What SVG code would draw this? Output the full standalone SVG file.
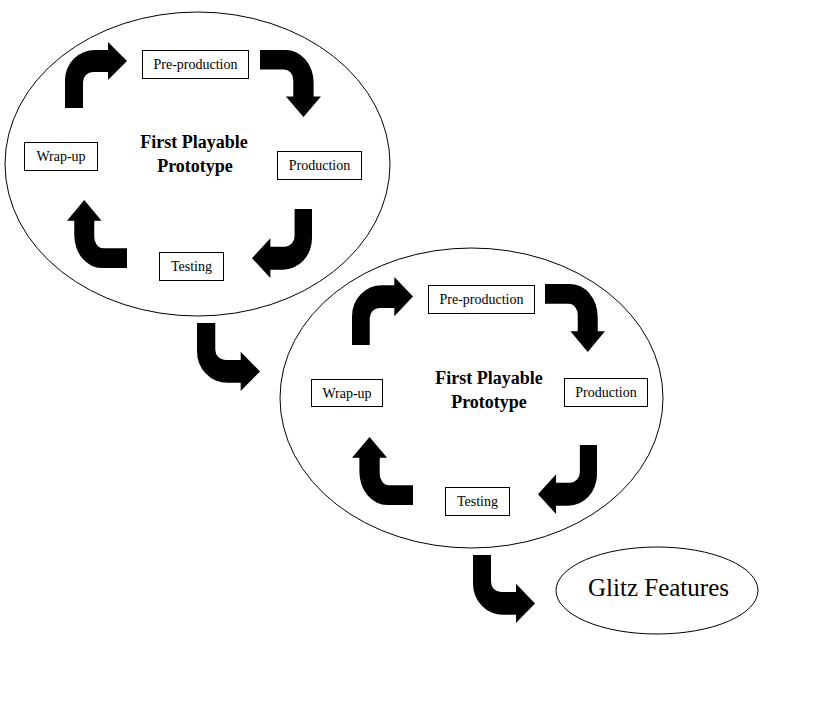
<svg xmlns="http://www.w3.org/2000/svg" xmlns:xlink="http://www.w3.org/1999/xlink" width="833" height="704" viewBox="0 0 833 704">
<style>
.loop{fill:none;stroke:#000;stroke-width:1}
.box{fill:#fff;stroke:#000;stroke-width:1}
.lbl{font-family:"Liberation Serif","Times New Roman",serif;font-size:14px;fill:#000;text-anchor:middle}
.title{font-family:"Liberation Serif","Times New Roman",serif;font-size:18px;font-weight:bold;fill:#000;text-anchor:middle}
.big{font-family:"Liberation Serif","Times New Roman",serif;font-size:25px;fill:#000;text-anchor:middle}
.arr{fill:#000}
</style>
<defs>
<path id="bent" d="M0,66 L0,38 A30,30 0 0 1 30,8 L43,8 L43,0 L62,19 L43,38 L43,30 L28,30 A10,10 0 0 0 18,40 L18,66 Z"/>
</defs>
<rect width="833" height="704" fill="#fff"/>
<g id="loop1">
<ellipse class="loop" cx="197.5" cy="164" rx="192.5" ry="152"/>
<text class="title" x="194" y="148">First Playable</text>
<text class="title" x="195" y="172">Prototype</text>
</g>
<g id="loop2">
<ellipse class="loop" cx="471.5" cy="398" rx="191.5" ry="150"/>
<text class="title" x="489" y="384">First Playable</text>
<text class="title" x="489" y="408">Prototype</text>
</g>
<g id="l1-preproduction"><rect class="box" x="142.5" y="50.5" width="106" height="28"/><text class="lbl" x="195.5" y="69">Pre-production</text></g>
<g id="l1-production"><rect class="box" x="277.5" y="151.5" width="84" height="28"/><text class="lbl" x="319.5" y="170">Production</text></g>
<g id="l1-testing"><rect class="box" x="159.5" y="252.5" width="64" height="28"/><text class="lbl" x="191.5" y="271">Testing</text></g>
<g id="l1-wrapup"><rect class="box" x="24.5" y="142.5" width="73" height="28"/><text class="lbl" x="61" y="161">Wrap-up</text></g>
<g id="l2-preproduction"><rect class="box" x="428.5" y="285.5" width="106" height="28"/><text class="lbl" x="481.5" y="304">Pre-production</text></g>
<g id="l2-production"><rect class="box" x="564.5" y="378.5" width="83" height="28"/><text class="lbl" x="606" y="397">Production</text></g>
<g id="l2-testing"><rect class="box" x="445.5" y="487.5" width="64" height="28"/><text class="lbl" x="477.5" y="506">Testing</text></g>
<g id="l2-wrapup"><rect class="box" x="311.5" y="379.5" width="71" height="27"/><text class="lbl" x="347" y="398">Wrap-up</text></g>
<g id="glitz">
<ellipse class="loop" cx="657" cy="590.5" rx="101" ry="43.5"/>
<text class="big" x="658.5" y="596">Glitz Features</text>
</g>
<g id="connectors" class="arr">
<use xlink:href="#bent" transform="translate(65,42)"/>
<use xlink:href="#bent" transform="matrix(0 1.081 -0.924 0 321 50)"/>
<use xlink:href="#bent" transform="matrix(-0.968 0 0 -1.045 312 278)"/>
<use xlink:href="#bent" transform="matrix(0 -1.097 0.909 0 67 268)"/>
<use xlink:href="#bent" transform="matrix(1.016 0 0 -1.03 197 391)"/>
<use xlink:href="#bent" transform="matrix(0.984 0 0 1.03 352 277)"/>
<use xlink:href="#bent" transform="matrix(0 1.097 -0.909 0 605 284)"/>
<use xlink:href="#bent" transform="matrix(-0.952 0 0 -1.045 597 514)"/>
<use xlink:href="#bent" transform="matrix(0 -1.097 0.924 0 352 505)"/>
<use xlink:href="#bent" transform="matrix(1 0 0 -1.03 473 623)"/>
</g>
</svg>
